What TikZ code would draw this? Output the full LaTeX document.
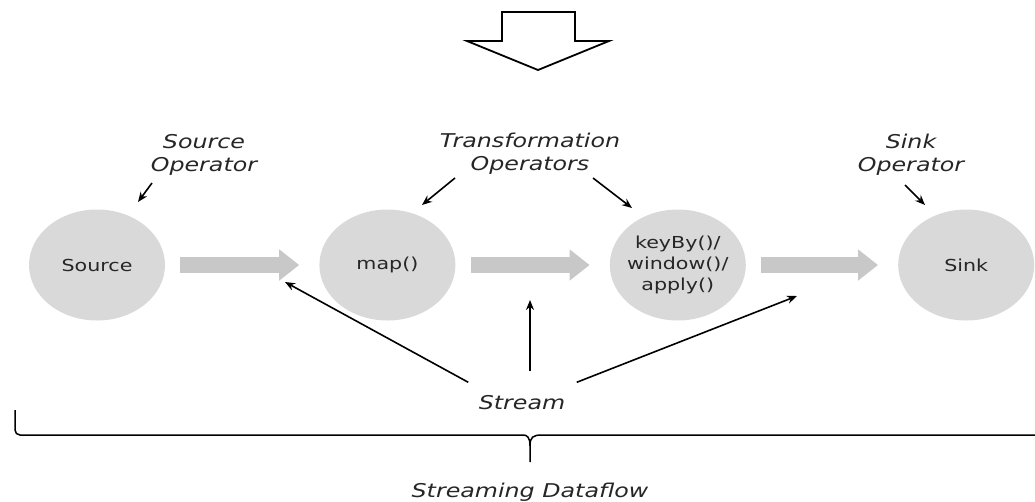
\documentclass[tikz,border=0pt]{standalone}
\usepackage{fontspec}
\setmainfont{DejaVu Sans}[FakeStretch=1.25]
\usepackage{tikz}
\usetikzlibrary{arrows.meta,positioning,calc,shapes.geometric}
\definecolor{opgray}{HTML}{D9D9D9}
\definecolor{flowgray}{HTML}{C8C8C8}
\definecolor{inkgray}{HTML}{262626}

\begin{document}
\begin{tikzpicture}[
    x=1pt,y=-1pt,
    every node/.style={text=inkgray},
    operator/.style={ellipse,fill=opgray,minimum width=136pt,minimum height=111pt,
                     inner sep=0pt,align=center,font=\fontsize{16.5}{21}\selectfont},
    caption/.style={align=center,font=\fontsize{19}{23}\selectfont\itshape},
    flow/.style={line width=16pt,flowgray,-{Triangle[length=20pt,width=30pt]},
                 shorten <=15pt,shorten >=20pt},
    ptr/.style={-{Stealth[length=10pt,width=8pt]},line width=1.6pt,black}
  ]
    \useasboundingbox (0,0) rectangle (1035,501);
    % big outline arrow on top
    \draw[line width=1.8pt,fill=white] (502,12) -- (575,12) -- (575,41) -- (609,41)
      -- (538,70) -- (467,41) -- (502,41) -- cycle;
    % operators
    \node[operator] (src) at (97,265) {Source};
    \node[operator, right=154pt of src] (map) {map()};
    \node[operator, inner sep=-6pt, right=154pt of map] (win) {keyBy()/\\window()/\\apply()};
    \node[operator, right=152pt of win] (sink) {Sink};
    \draw[flow] (src) -- (map);
    \draw[flow] (map) -- (win);
    \draw[flow] (win) -- (sink);
    % captions
    \node[caption] (srclbl) at (204,155) {Source\\Operator};
    \node[caption] (trlbl) at (530,154) {Transformation\\Operators};
    \node[caption] (sinklbl) at (911,155) {Sink\\Operator};
    \coordinate (srcptr) at (138,202);
    \coordinate (mapptr) at (422,205);
    \coordinate (winptr) at (632,208);
    \coordinate (sinkptr) at (925,205);
    \draw[ptr] (152,183) -- (srcptr);
    \draw[ptr] (455,178) -- (mapptr);
    \draw[ptr] (593,178) -- (winptr);
    \draw[ptr] (905,185) -- (sinkptr);
    % stream
    \node[caption] (stream) at (522,403) {Stream};
    \coordinate (flowA) at (285,282);
    \coordinate (flowB) at (530,300);
    \coordinate (flowC) at (797,296);
    \draw[ptr] ([xshift=-7pt,yshift=10pt]stream.north west) -- (flowA);
    \draw[ptr] ([xshift=8pt,yshift=21pt]stream.north) -- (flowB);
    \draw[ptr] ([xshift=8pt,yshift=10pt]stream.north east) -- (flowC);
    % brace
    \draw[line width=1.5pt] {[rounded corners=5pt] (15,410) -- (15,435) -- (518,435)}
      .. controls (527,435) and (530,437) .. (530,446) -- (530,462);
    \draw[line width=1.5pt] (1050,435) -- (542,435)
      .. controls (533,435) and (530,437) .. (530,446);
    \node[caption] (dataflow) at (530,492) {Streaming Dataflow};
  \end{tikzpicture}
\end{document}
